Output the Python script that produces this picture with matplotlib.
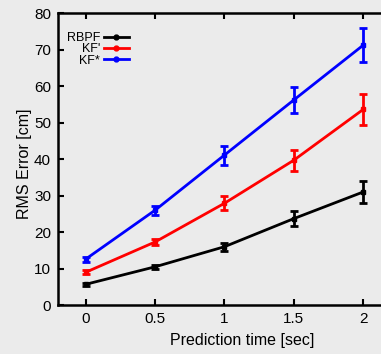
import matplotlib
matplotlib.use("Agg")
import matplotlib.pyplot as plt
from matplotlib.lines import Line2D

plt.rcParams['font.family'] = ['Liberation Sans', 'DejaVu Sans']

t = [0, 0.5, 1, 1.5, 2]

rbpf = [5.7, 10.5, 16.0, 23.7, 31.0]
rbpf_err = [0.4, 0.6, 1.1, 2.1, 3.0]

kf1 = [9.0, 17.3, 27.9, 39.7, 53.6]
kf1_err = [0.5, 0.9, 1.9, 2.9, 4.2]

kf2 = [12.6, 26.0, 41.1, 56.2, 71.2]
kf2_err = [0.7, 1.2, 2.6, 3.5, 4.7]

bg = '#ebebeb'
fig = plt.figure(figsize=(3.81, 3.54), dpi=100, facecolor=bg)
ax = fig.add_axes([0.152, 0.138, 0.874, 0.825], facecolor=bg)

handles = []
for y, e, c, lab in [(rbpf, rbpf_err, 'black', 'RBPF'),
                     (kf1, kf1_err, 'red', "KF'"),
                     (kf2, kf2_err, 'blue', 'KF*')]:
    ax.errorbar(t, y, yerr=e, color=c, lw=2, elinewidth=2, capsize=3,
                capthick=2, marker='s', ms=3.2)
    handles.append(Line2D([], [], color=c, lw=2, marker='o', ms=3.5, label=lab))

ax.set_xlim(-0.2, 2.2)
ax.set_ylim(0, 80)
ax.set_xticks(t)
ax.set_xticklabels(['0', '0.5', '1', '1.5', '2'])
ax.set_yticks(range(0, 81, 10))
ax.tick_params(direction='in', length=4, width=1.5, labelsize=11, top=True, pad=5)
for s in ax.spines.values():
    s.set_linewidth(1.8)

ax.set_xlabel('Prediction time [sec]', fontsize=11.5)
ax.xaxis.set_label_coords(0.554, -0.095)
ax.set_ylabel('RMS Error [cm]', fontsize=11.5)
ax.yaxis.set_label_coords(-0.078, 0.485)

leg = ax.legend(handles=handles, loc='upper left', bbox_to_anchor=(0.0, 0.965),
                frameon=False, markerfirst=False, fontsize=9, handlelength=2.0,
                labelspacing=-0.05, handletextpad=0.3, borderaxespad=0.3)

fig.savefig('out.png', dpi=100, facecolor=bg)
